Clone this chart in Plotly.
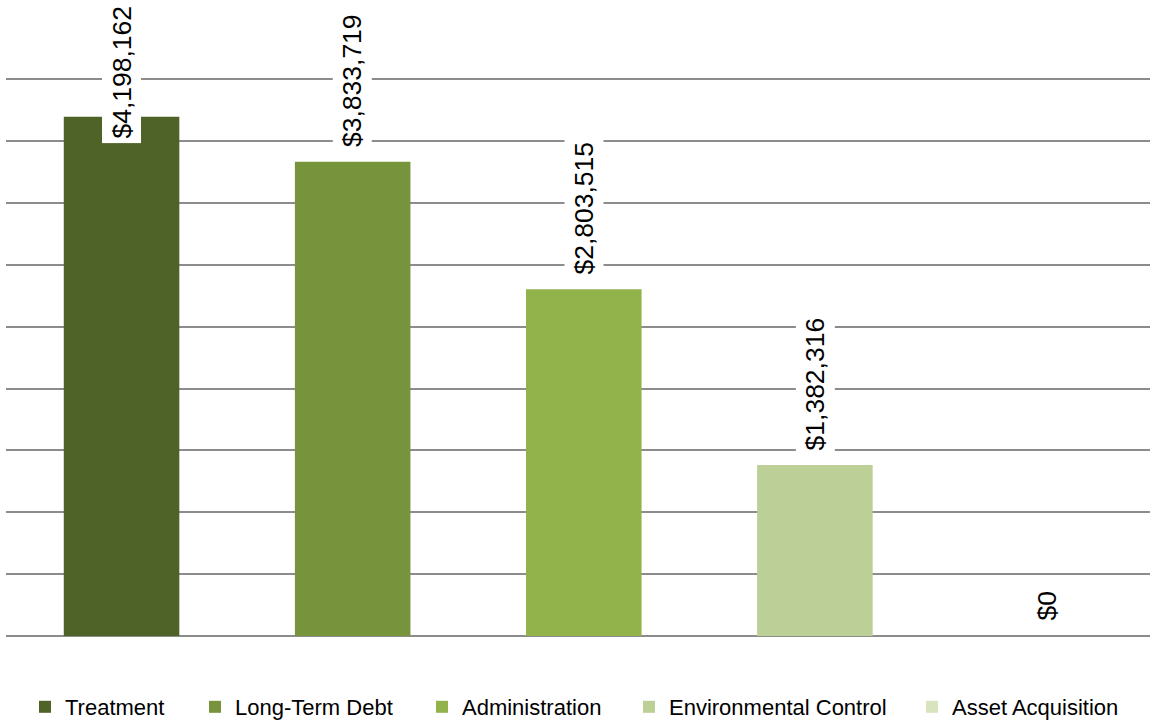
import plotly.graph_objects as go

categories = ["Treatment", "Long-Term Debt", "Administration", "Environmental Control", "Asset Acquisition"]
values = [4198162, 3833719, 2803515, 1382316, 0]
colors = ["#4F6228", "#77933C", "#92B34B", "#BBCF97", "#D7E4BD"]
legend_text_px = [61, 231, 458, 665, 948]

W, H = 1154, 723
ML, MR, MB = 6, 4, 87
YGRID_TOP = 4500000
px_per_unit = (H - 79 - MB) / YGRID_TOP
YTOP = 4520000
plot_h = YTOP * px_per_unit
MT = H - MB - plot_h
LABEL_LEN = 146
GAP = 14
LABEL_FONT = dict(family="Liberation Sans, Arial", size=26.5, color="black")

fig = go.Figure()
annotations = []
for i, (cat, val, col) in enumerate(zip(categories, values, colors)):
    lname = "legend" if i == 0 else f"legend{i+1}"
    fig.add_trace(go.Bar(
        x=[cat], y=[val], name=cat, marker=dict(color=col, line=dict(width=0)),
        width=0.5, legend=lname, showlegend=True,
    ))
    label = "$" + f"{val:,}"
    bar_top_px = MT + (YTOP - val) * px_per_unit
    natural_top = bar_top_px - GAP - LABEL_LEN
    if natural_top < 0:
        annotations.append(dict(
            x=cat, xref="x", y=1 + MT / plot_h, yref="paper", yanchor="top",
            text=label, textangle=-90, showarrow=False, bgcolor="white",
            borderpad=4, font=LABEL_FONT,
        ))
    else:
        annotations.append(dict(
            x=cat, xref="x", y=val, yref="y", yanchor="bottom", yshift=GAP - 4,
            text=label, textangle=-90, showarrow=False, bgcolor="white",
            borderpad=4, font=LABEL_FONT,
        ))

layout_legends = {}
for i, tx in enumerate(legend_text_px):
    lname = "legend" if i == 0 else f"legend{i+1}"
    layout_legends[lname] = dict(
        xref="container", yref="container", x=(tx - 36) / W, y=1 - 707 / H,
        xanchor="left", yanchor="middle", orientation="h",
        font=dict(family="Liberation Sans, Arial", size=22, color="black"),
        bgcolor="rgba(0,0,0,0)", itemwidth=30,
    )

fig.update_layout(
    width=W, height=H,
    margin=dict(l=ML, r=MR, t=MT, b=MB),
    paper_bgcolor="white", plot_bgcolor="white",
    barmode="overlay",
    annotations=annotations,
    xaxis=dict(range=[-0.5, 4.45], showticklabels=False, showgrid=False, zeroline=False,
               showline=False, ticks=""),
    yaxis=dict(range=[0, YTOP], dtick=500000, showticklabels=False, showgrid=True,
               gridcolor="#8C8C8C", gridwidth=2, zeroline=True, zerolinecolor="#8C8C8C",
               zerolinewidth=2, showline=False, ticks=""),
    **layout_legends,
)

fig.write_html("out.html")
